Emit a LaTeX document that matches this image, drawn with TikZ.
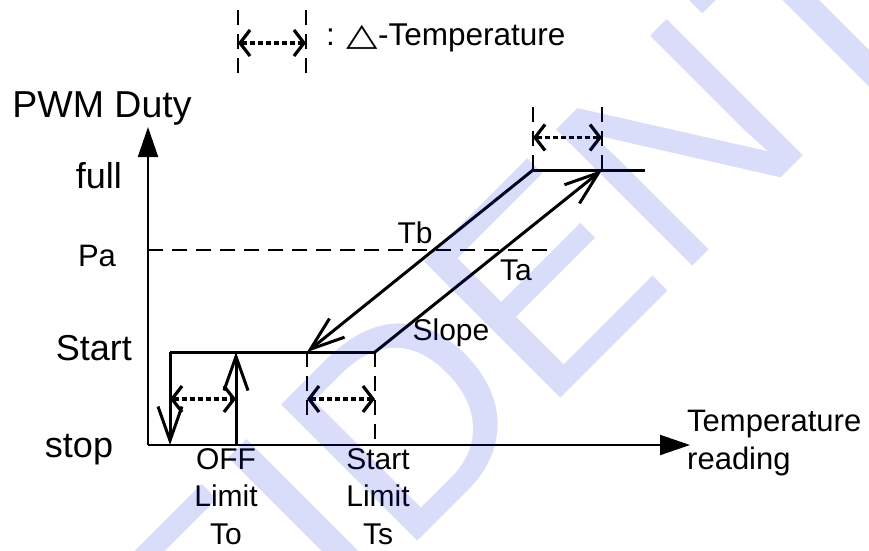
\documentclass[tikz,border=0pt]{standalone}
\usepackage{fontspec}
\setmainfont{Liberation Sans}
\newfontfamily\simbolo{DejaVu Sans}
\usetikzlibrary{arrows.meta,calc}
\definecolor{marcaazul}{RGB}{0,26,222}

\begin{document}
\begin{tikzpicture}[x=1pt,y=-1pt,
    eje/.style={line width=2pt,-{Triangle[length=30pt,width=20pt]}},
    linea/.style={line width=3pt},
    flecha/.style={-{Straight Barb[length=34pt,width=24pt]}},
    guia/.style={line width=2.4pt,dash pattern=on 15pt off 9pt},
    delta/.style={line width=3.2pt,dash pattern=on 5pt off 3pt,
      {Straight Barb[length=10pt,width=26pt]}-{Straight Barb[length=10pt,width=26pt]}},
    grande/.style={font=\fontsize{36}{36}\selectfont,inner sep=0pt},
    rotulo/.style={font=\fontsize{30}{37.5}\selectfont,inner sep=0pt,align=center},
    marca/.style={rotate=45,anchor=base,inner sep=0pt,text=marcaazul,text opacity=0.15,
      font=\fontsize{280}{280}\selectfont}]
  \useasboundingbox (0,0) rectangle (869,550);
  \def\yS{352} % nivel Start
  \def\yF{170} % nivel full
  % ejes
  \coordinate (o) at (148,445);
  \coordinate (ytop) at (148,127);
  \coordinate (xend) at (690,445);
  \draw[eje] (o) -- (ytop);
  \draw[eje] (o) -- (xend);
  % puntos de la curva
  \coordinate (a) at (170,\yS);  \coordinate (a0) at (a |- o);
  \coordinate (b) at (236,\yS);  \coordinate (b0) at (b |- o);
  \coordinate (c) at (307,\yS);  \coordinate (c0) at (307,418);
  \coordinate (d) at (375,\yS);  \coordinate (d0) at (d |- o);
  \coordinate (e) at (533,\yF);  \coordinate (e0) at (533,105);
  \coordinate (f) at (602,\yF);  \coordinate (f0) at (602,105);
  \coordinate (g) at (645,\yF);
  \coordinate (p0) at (148,250); \coordinate (p1) at (555,250);
  \coordinate (m) at (0,399);
  \draw[guia] (p0) -- (p1);
  \draw[guia] (c) -- (c0) (d) -- (d0) (e) -- (e0) (f) -- (f0);
  \draw[linea] (a) -- (d) (e) -- (g);
  \draw[linea,flecha] (d) -- (f);
  \draw[linea,flecha] (e) -- (c);
  \draw[linea,flecha] (a) -- (a0);
  \draw[linea,flecha] (b0) -- (b);
  \draw[delta] (a |- m) -- (b |- m);
  \draw[delta] (c |- m) -- (d |- m);
  \draw[delta] ($(e)!.5!(e0)$) -- ($(f)!.5!(f0)$);
  % leyenda
  \coordinate (l0) at (238,10); \coordinate (l1) at (238,76);
  \coordinate (r0) at (306,10); \coordinate (r1) at (306,76);
  \draw[guia] (l0) -- (l1) (r0) -- (r1);
  \draw[delta] ($(l0)!.5!(l1)$) -- ($(r0)!.5!(r1)$);
  \node[rotulo,font=\fontsize{31.5}{31.5}\selectfont,anchor=base west] (leyenda) at (326,45)
    {: \scalebox{1.3}[1]{\simbolo △}-Temperature};
  % rotulos
  \node[grande,font=\fontsize{37.5}{37.5}\selectfont,anchor=base] (pwm) at (102,117) {PWM Duty};
  \node[grande,anchor=base east] (full) at (122,188) {full};
  \node[rotulo,font=\fontsize{31}{31}\selectfont,anchor=base] (pa) at (97,266) {Pa};
  \node[grande,anchor=base east] (start) at (132,360) {Start};
  \node[grande,anchor=base] (stop) at (79,457) {stop};
  \node[rotulo,anchor=base] (tb) at (415,243) {Tb};
  \node[rotulo,anchor=base] (ta) at (516,280) {Ta};
  \node[rotulo,anchor=base] (slope) at (451,340) {Slope};
  \node[rotulo,anchor=north] (to) at (226,448) {OFF\\Limit\\To};
  \node[rotulo,anchor=north] (ts) at (378,448) {Start\\Limit\\Ts};
  \node[rotulo,font=\fontsize{31}{38}\selectfont,align=left,anchor=north west]
    (temp) at (687,410) {Temperature\\reading};
  % marca de agua
  \node[marca] (conf) at (512,447) {CONFIDENTIAL};
\end{tikzpicture}
\end{document}
